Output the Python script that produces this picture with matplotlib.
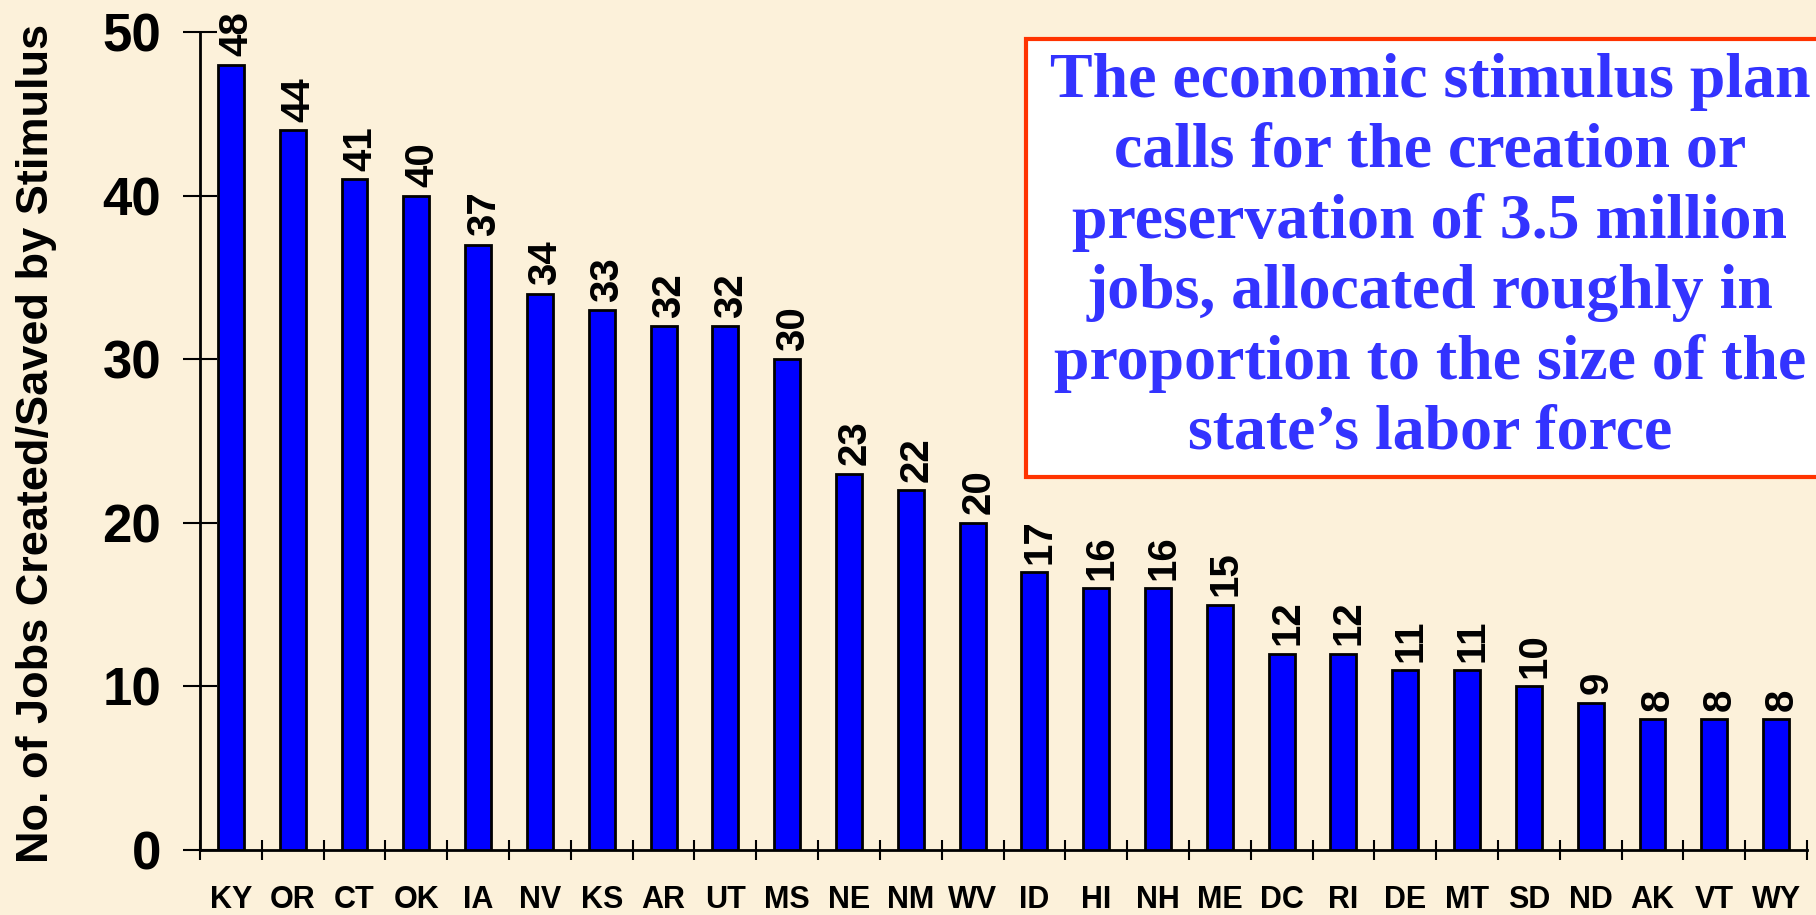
import matplotlib
matplotlib.use('Agg')
import matplotlib.pyplot as plt
from matplotlib.patches import Rectangle

# datos por estado
states = ['KY', 'OR', 'CT', 'OK', 'IA', 'NV', 'KS', 'AR', 'UT', 'MS', 'NE', 'NM', 'WV',
          'ID', 'HI', 'NH', 'ME', 'DC', 'RI', 'DE', 'MT', 'SD', 'ND', 'AK', 'VT', 'WY']
jobs = [48, 44, 41, 40, 37, 34, 33, 32, 32, 30, 23, 22, 20,
        17, 16, 16, 15, 12, 12, 11, 11, 10, 9, 8, 8, 8]
yticks = [0, 10, 20, 30, 40, 50]
box_text = ("The economic stimulus plan\n"
            "calls for the creation or\n"
            "preservation of 3.5 million\n"
            "jobs, allocated roughly in\n"
            "proportion to the size of the\n"
            "state\u2019s labor force")

bg = '#FCF1DA'
fig = plt.figure(figsize=(18.16, 9.15), dpi=100, facecolor=bg)
ax = fig.add_axes([200 / 1816, 65 / 915, 1607 / 1816, 818 / 915])
ax.set_facecolor(bg)

x = list(range(len(states)))
ax.bar(x, jobs, width=0.42, color='#0000FF', edgecolor='black', linewidth=2, zorder=3)

for xi, v in zip(x, jobs):
    ax.annotate(str(v), (xi, v), xytext=(4, 6), textcoords='offset points',
                rotation=90, ha='center', va='bottom', fontsize=29,
                fontweight='bold', family='Liberation Sans')

ax.set_xlim(-0.5, len(states) - 0.5)
ax.set_ylim(0, 50)
ax.set_yticks(yticks)
ax.set_yticklabels([str(t) for t in yticks], fontsize=38, fontweight='bold',
                   family='Liberation Sans')
ax.set_xticks(x)
ax.set_xticklabels(states, fontsize=22, fontweight='bold', family='Liberation Sans')
ax.set_xticks([i - 0.5 for i in range(len(states) + 1)], minor=True)
ax.tick_params(axis='x', which='major', length=0, pad=25)
ax.tick_params(axis='x', which='minor', direction='inout', length=15, width=1.5)
ax.tick_params(axis='y', direction='inout', length=24, width=1.5, pad=16)

for s in ['top', 'right']:
    ax.spines[s].set_visible(False)
ax.spines['left'].set_linewidth(2)
ax.spines['bottom'].set_linewidth(2)

fig.text(37 / 1816, 1 - 443 / 915, 'No. of Jobs Created/Saved by Stimulus',
         rotation=90, ha='center', va='center', fontsize=32.5, fontweight='bold',
         family='Liberation Sans')

# recuadro con el texto
fig.add_artist(Rectangle((1026 / 1816, 1 - 477 / 915), 0.5, 438 / 915,
                         transform=fig.transFigure, facecolor='white',
                         edgecolor='#FF3300', linewidth=3, zorder=5))
fig.text(1430 / 1816, 1 - 258 / 915, box_text, ha='center', va='center',
         fontsize=46, fontweight='bold', family='Liberation Serif',
         color='#3333FF', linespacing=1.27, zorder=6)

fig.savefig('out.png', dpi=100, facecolor=bg)
